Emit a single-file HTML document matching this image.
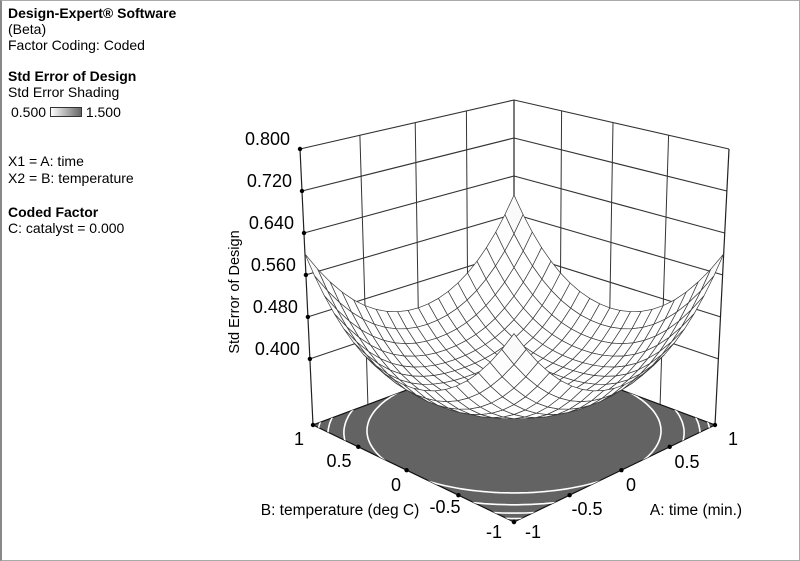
<!DOCTYPE html>
<html><head><meta charset="utf-8"><style>
body{margin:0;background:#fff;}
#w{position:relative;width:800px;height:561px;overflow:hidden;font-family:"Liberation Sans",sans-serif;color:#000;box-sizing:border-box;border-left:2px solid #888;border-top:1px solid #aaa;border-bottom:1px solid #aaa;border-right:1px solid #aaa}
.t{position:absolute;left:6px;font-size:14px;white-space:nowrap;line-height:16px}
.b{font-weight:bold}
svg{position:absolute;left:0;top:0}
</style></head><body><div id="w">
<div class="t b" style="top:4px">Design-Expert® Software</div>
<div class="t" style="top:20px">(Beta)</div>
<div class="t" style="top:36px">Factor Coding: Coded</div>
<div class="t b" style="top:67px">Std Error of Design</div>
<div class="t" style="top:83px">Std Error Shading</div>
<div class="t" style="top:103px;left:9px">0.500 <span style="display:inline-block;width:30px;height:8px;border:1px solid #333;background:linear-gradient(90deg,#fff,#666);vertical-align:0px"></span> 1.500</div>
<div class="t" style="top:152px">X1 = A: time</div>
<div class="t" style="top:169px">X2 = B: temperature</div>
<div class="t b" style="top:203px">Coded Factor</div>
<div class="t" style="top:219px">C: catalyst = 0.000</div>
<svg id="s" width="800" height="561" xmlns="http://www.w3.org/2000/svg"></svg>
</div>
<script>
function solve(A,b){var n=b.length;for(var i=0;i<n;i++){var m=i;for(var j=i+1;j<n;j++)if(Math.abs(A[j][i])>Math.abs(A[m][i]))m=j;var t=A[i];A[i]=A[m];A[m]=t;t=b[i];b[i]=b[m];b[m]=t;for(var j=i+1;j<n;j++){var f=A[j][i]/A[i][i];for(var k=i;k<n;k++)A[j][k]-=f*A[i][k];b[j]-=f*b[i];}}var x=new Array(n);for(var i=n-1;i>=0;i--){var s=b[i];for(var k=i+1;k<n;k++)s-=A[i][k]*x[k];x[i]=s/A[i][i];}return x;}
function homog(src,dst){var A=[],b=[];for(var i=0;i<4;i++){var x=src[i][0],y=src[i][1],u=dst[i][0],v=dst[i][1];A.push([x,y,1,0,0,0,-u*x,-u*y]);b.push(u);A.push([0,0,0,x,y,1,-v*x,-v*y]);b.push(v);}var h=solve(A,b);return function(x,y){var w=h[6]*x+h[7]*y+1;return[(h[0]*x+h[1]*y+h[2])/w,(h[3]*x+h[4]*y+h[5])/w];};}
var src=[[-1,-1],[-1,1],[1,-1],[1,1]];
var F=homog(src,[[512,521],[311,424],[713,424],[512,349]]);
var T=homog(src,[[512,217],[298,148],[727,148],[512,99]]);
var Z0=0.274,Z1=0.8;
function P(a,b,z){var zn=(z-Z0)/(Z1-Z0);var f=F(a,b),t=T(a,b);return[f[0]+zn*(t[0]-f[0]),f[1]+zn*(t[1]-f[1])];}
function se(a,b){var r2=a*a+b*b;return Math.sqrt(0.112+0.02*r2+0.052*r2*r2);}
var o=[];
function L(p,q,c,w){o.push('<line x1="'+p[0].toFixed(1)+'" y1="'+p[1].toFixed(1)+'" x2="'+q[0].toFixed(1)+'" y2="'+q[1].toFixed(1)+'" stroke="'+(c||'#222')+'" stroke-width="'+(w||1)+'"/>');}
function dot(p){o.push('<circle cx="'+p[0].toFixed(1)+'" cy="'+p[1].toFixed(1)+'" r="2.2" fill="#000"/>');}
var zt=[0.4,0.48,0.56,0.64,0.72,0.8];
[-0.5,0,0.5].forEach(function(v){L(P(v,1,Z0),P(v,1,Z1),'#333',1);L(P(1,v,Z0),P(1,v,Z1),'#333',1);});
zt.forEach(function(z){L(P(-1,1,z),P(1,1,z),'#333',1.1);L(P(1,1,z),P(1,-1,z),'#333',1.1);});
L(P(1,1,Z0),P(1,1,Z1),'#222',1.2);L(P(-1,1,Z0),P(-1,1,Z1),'#222',1.2);L(P(1,-1,Z0),P(1,-1,Z1),'#222',1.2);
var fc=[F(-1,-1),F(-1,1),F(1,1),F(1,-1)];
var fp=fc.map(function(p){return p[0].toFixed(1)+','+p[1].toFixed(1)}).join(' ');
o.push('<clipPath id="cf"><polygon points="'+fp+'"/></clipPath>');
o.push('<polygon points="'+fp+'" fill="#636363" stroke="#111" stroke-width="1.2"/>');
[1.03,1.19,1.30,1.37].forEach(function(r){var pts=[];for(var i=0;i<=180;i++){var t=i/180*2*Math.PI;pts.push(F(r*Math.cos(t),r*Math.sin(t)).map(function(v){return v.toFixed(1)}).join(','));}o.push('<polyline clip-path="url(#cf)" points="'+pts.join(' ')+'" fill="none" stroke="#fff" stroke-width="1.6"/>');});
zt.forEach(function(z){var p=P(-1,1,z);dot(p);o.push('<text x="'+(p[0]-10)+'" y="'+(p[1]-4)+'" font-size="18" text-anchor="end">'+z.toFixed(3)+'</text>');});
[-1,-0.5,0,0.5,1].forEach(function(v){dot(F(-1,v));dot(F(v,-1));});
var N=20,q=[];
for(var i=0;i<N;i++)for(var j=0;j<N;j++){var a0=-1+2*i/N,a1=-1+2*(i+1)/N,b0=-1+2*j/N,b1=-1+2*(j+1)/N;q.push({d:a0+a1+b0+b1,p:[[a0,b0],[a1,b0],[a1,b1],[a0,b1]]});}
q.sort(function(x,y){return y.d-x.d;});
q.forEach(function(c){var s=c.p.map(function(u){return P(u[0],u[1],se(u[0],u[1])).map(function(v){return v.toFixed(1)}).join(',')}).join(' ');var m=(c.p[0][0]+c.p[2][0])/2,n=(c.p[0][1]+c.p[2][1])/2;var z=se(m,n);var g=Math.round(255-Math.max(0,(z-0.5))*80);o.push('<polygon points="'+s+'" fill="rgb('+g+','+g+','+g+')" stroke="#3a3a3a" stroke-width="0.7"/>');});
function tx(x,y,s,sz,anc){o.push('<text x="'+x+'" y="'+y+'" font-size="'+sz+'" text-anchor="'+(anc||'middle')+'">'+s+'</text>');}
tx(297,444,'1',18);tx(337,466,'0.5',18);tx(394,490,'0',18);tx(443,512,'-0.5',18);tx(492,537,'-1',18);
tx(531,537,'-1',18);tx(585,514,'-0.5',18);tx(629,490,'0',18);tx(685,467,'0.5',18);tx(731,444,'1',18);
tx(338,514,'B: temperature (deg C)',15.5);tx(694,514,'A: time (min.)',15.5);
o.push('<text transform="translate(237,291) rotate(-90)" font-size="14.5" text-anchor="middle">Std Error of Design</text>');
document.getElementById('s').innerHTML=o.join('');
</script>
</body></html>
